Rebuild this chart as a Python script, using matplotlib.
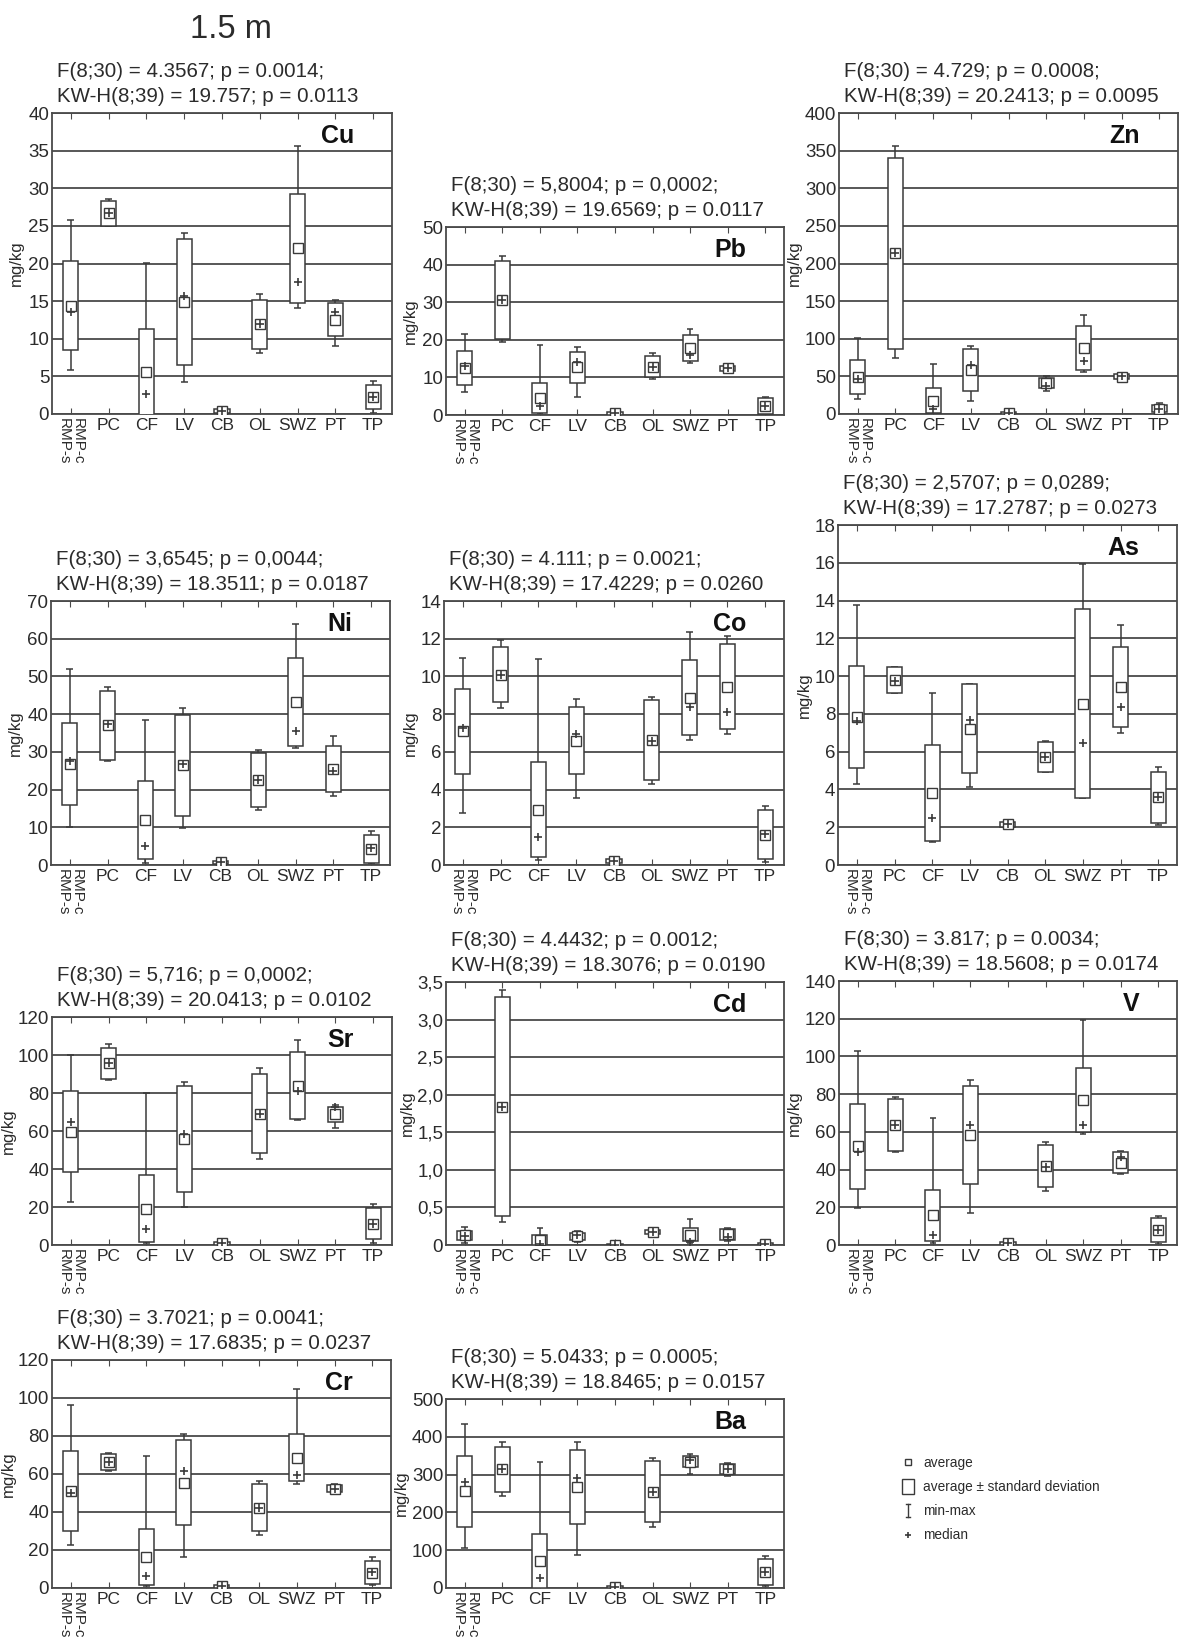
import numpy as np
import matplotlib
matplotlib.use("Agg")
import matplotlib.pyplot as plt
from matplotlib.ticker import MultipleLocator, FuncFormatter
from matplotlib.legend_handler import HandlerBase
from matplotlib.lines import Line2D
from matplotlib.patches import Rectangle, Patch

plt.rcParams["font.family"] = ["Liberation Sans", "DejaVu Sans"]

GROUPS = ["RMP-c\nRMP-s", "PC", "CF", "LV", "CB", "OL", "SWZ", "PT", "TP"]

# average, standard deviation, min, max, median per group
CU = {"mean": [14.4, 26.65, 5.6, 14.9, 0.4, 11.9, 22.0, 12.5, 2.2],
      "sd": [5.9, 1.65, 5.7, 8.4, 0.3, 3.2, 7.3, 2.2, 1.6],
      "min": [5.9, 25.0, 0.0, 4.3, 0.0, 8.1, 14.1, 9.1, 0.1],
      "max": [25.8, 28.6, 20.1, 24.1, 0.9, 15.9, 35.6, 15.1, 4.4],
      "median": [13.5, 26.7, 2.6, 15.7, 0.4, 11.9, 17.6, 13.5, 2.2]}
PB = {"mean": [12.5, 30.6, 4.5, 12.7, 0.4, 12.8, 17.9, 12.4, 2.4],
      "sd": [4.4, 10.4, 4.1, 4.1, 0.3, 2.8, 3.5, 0.6, 2.2],
      "min": [6.0, 19.3, 0.2, 4.9, 0.1, 9.5, 13.9, 11.7, 0.1],
      "max": [21.5, 42.2, 18.6, 18.1, 0.8, 16.5, 22.9, 13.3, 4.8],
      "median": [13.0, 30.6, 2.4, 14.2, 0.4, 12.8, 15.9, 12.5, 2.3]}
ZN = {"mean": [49.5, 213.5, 17.7, 59.0, 1.0, 41.0, 87.5, 49.8, 7.3],
      "sd": [22.5, 126.5, 16.3, 28.0, 1.0, 7.0, 29.5, 3.3, 4.3],
      "min": [20, 74, 1, 17.7, 0, 31, 56, 46, 1.3],
      "max": [101, 356, 66, 90, 3, 50, 132, 53, 14],
      "median": [46.5, 214, 6.6, 65.6, 1.0, 37, 70, 50, 7]}
NI = {"mean": [26.8, 37.0, 11.95, 26.4, 0.7, 22.5, 43.2, 25.5, 4.3],
      "sd": [10.9, 9.2, 10.45, 13.4, 0.4, 7.2, 11.6, 6.1, 3.7],
      "min": [10.2, 27.6, 0.4, 9.7, 0.2, 14.6, 30.9, 18.3, 0.3],
      "max": [52.0, 47.3, 38.4, 41.7, 1.2, 30.5, 63.9, 34.2, 9.0],
      "median": [27.7, 37.3, 5.1, 26.8, 0.7, 22.5, 35.6, 25.0, 4.4]}
CO = {"mean": [7.08, 10.08, 2.94, 6.6, 0.22, 6.63, 8.87, 9.45, 1.61],
      "sd": [2.25, 1.46, 2.5, 1.8, 0.12, 2.12, 2.0, 2.25, 1.31],
      "min": [2.78, 8.31, 0.27, 3.54, 0.08, 4.28, 6.63, 6.95, 0.18],
      "max": [10.96, 11.93, 10.92, 8.82, 0.38, 8.89, 12.37, 12.14, 3.15],
      "median": [7.25, 10.08, 1.5, 6.93, 0.22, 6.6, 8.4, 8.13, 1.63]}
AS = {"mean": [7.85, 9.79, 3.8, 7.22, 2.15, 5.73, 8.55, 9.4, 3.59],
      "sd": [2.7, 0.67, 2.53, 2.34, 0.12, 0.8, 5.0, 2.12, 1.35],
      "min": [4.29, 9.09, 1.24, 4.15, 1.98, 4.9, 3.53, 7.0, 2.12],
      "max": [13.76, 10.5, 9.12, 9.58, 2.29, 6.58, 15.93, 12.7, 5.17],
      "median": [7.62, 9.76, 2.47, 7.68, 2.15, 5.7, 6.44, 8.38, 3.58]}
SR = {"mean": [59.65, 95.65, 19.2, 55.7, 1.0, 69.2, 83.9, 68.75, 11.25],
      "sd": [21.45, 8.05, 17.8, 28.0, 0.8, 21.0, 17.7, 3.95, 8.05],
      "min": [22.4, 87.1, 0.9, 20.1, 0.1, 45.5, 66.0, 61.8, 1.2],
      "max": [99.9, 105.6, 80.1, 85.8, 2.3, 93.4, 107.7, 73.6, 21.4],
      "median": [64.5, 96.0, 8.4, 58.3, 1.0, 69.0, 81.1, 72.7, 11.0]}
CD = {"mean": [0.13, 1.84, 0.065, 0.115, 0.005, 0.175, 0.135, 0.14, 0.01],
      "sd": [0.06, 1.46, 0.065, 0.045, 0.005, 0.025, 0.085, 0.07, 0.01],
      "min": [0.02, 0.31, 0.0, 0.04, 0.0, 0.14, 0.02, 0.05, 0.0],
      "max": [0.24, 3.39, 0.23, 0.18, 0.01, 0.21, 0.35, 0.22, 0.03],
      "median": [0.12, 1.84, 0.01, 0.13, 0.005, 0.17, 0.04, 0.1, 0.01]}
V = {"mean": [52.25, 63.65, 15.7, 58.25, 1.0, 41.75, 76.65, 43.7, 7.95],
     "sd": [22.75, 13.65, 13.4, 26.15, 0.8, 11.25, 16.95, 5.4, 6.55],
     "min": [19.8, 49.4, 0.9, 17.1, 0.1, 28.8, 59.1, 37.4, 0.5],
     "max": [102.9, 78.6, 67.4, 87.7, 2.0, 54.7, 119.5, 50.0, 15.5],
     "median": [49.4, 63.6, 5.3, 63.6, 1.0, 41.1, 63.6, 46.8, 7.9]}
CR = {"mean": [51.0, 66.15, 16.3, 55.4, 0.8, 42.2, 68.5, 52.3, 8.15],
      "sd": [21.0, 4.15, 14.8, 22.4, 0.6, 12.3, 12.3, 1.7, 5.85],
      "min": [22.5, 61.5, 0.9, 16.3, 0.1, 27.8, 54.5, 50.0, 1.4],
      "max": [96.3, 71.2, 69.6, 80.8, 1.5, 56.2, 105.0, 55.0, 16.3],
      "median": [50.0, 66.4, 6.1, 61.5, 0.8, 42.2, 59.7, 52.0, 8.4]}
BA = {"mean": [256, 314, 71, 266.5, 3, 255, 334.5, 314, 43.5],
      "sd": [94, 59, 71, 98.5, 2.5, 80, 15.5, 13, 34.5],
      "min": [106, 244, 3, 87, 0.5, 162, 301, 296, 4],
      "max": [434, 385, 333, 386, 6, 345, 354, 330, 84],
      "median": [281, 315, 27, 292, 3, 253, 339, 315, 42]}

STATS = {
    "Cu": ("F(8;30) = 4.3567; p = 0.0014;", "KW-H(8;39) = 19.757; p = 0.0113"),
    "Pb": ("F(8;30) = 5,8004; p = 0,0002;", "KW-H(8;39) = 19.6569; p = 0.0117"),
    "Zn": ("F(8;30) = 4.729; p = 0.0008;", "KW-H(8;39) = 20.2413; p = 0.0095"),
    "Ni": ("F(8;30) = 3,6545; p = 0,0044;", "KW-H(8;39) = 18.3511; p = 0.0187"),
    "Co": ("F(8;30) = 4.111; p = 0.0021;", "KW-H(8;39) = 17.4229; p = 0.0260"),
    "As": ("F(8;30) = 2,5707; p = 0,0289;", "KW-H(8;39) = 17.2787; p = 0.0273"),
    "Sr": ("F(8;30) = 5,716; p = 0,0002;", "KW-H(8;39) = 20.0413; p = 0.0102"),
    "Cd": ("F(8;30) = 4.4432; p = 0.0012;", "KW-H(8;39) = 18.3076; p = 0.0190"),
    "V": ("F(8;30) = 3.817; p = 0.0034;", "KW-H(8;39) = 18.5608; p = 0.0174"),
    "Cr": ("F(8;30) = 3.7021; p = 0.0041;", "KW-H(8;39) = 17.6835; p = 0.0237"),
    "Ba": ("F(8;30) = 5.0433; p = 0.0005;", "KW-H(8;39) = 18.8465; p = 0.0157"),
}

# element -> (data, y max, y step, axes box in pixels: left, top, right, bottom, ylabel offset px)
PANELS = [
    ("Cu", CU, 40, 5, (52, 113, 392, 414), 28),
    ("Pb", PB, 50, 10, (446, 227, 784, 415), 28),
    ("Zn", ZN, 400, 50, (839, 113, 1178, 414), 37),
    ("Ni", NI, 70, 10, (51, 601, 390, 865), 28),
    ("Co", CO, 14, 2, (444, 601, 784, 865), 26),
    ("As", AS, 18, 2, (838, 525, 1177, 865), 26),
    ("Sr", SR, 120, 20, (52, 1017, 392, 1245), 36),
    ("Cd", CD, 3.5, 0.5, (446, 982, 784, 1245), 31),
    ("V", V, 140, 20, (839, 981, 1177, 1245), 37),
    ("Cr", CR, 120, 20, (52, 1360, 391, 1588), 36),
    ("Ba", BA, 500, 100, (446, 1399, 784, 1588), 37),
]

W, H = 1180, 1641
INK = "#2b2b2b"
EDGE = "#3a3a3a"
GRID = "#4a4a4a"
PT_PER_PX = 0.72

fig = plt.figure(figsize=(W / 100, H / 100), dpi=100)
fig.text(231 / W, 1 - 29 / H, "1.5 m", ha="center", va="center", fontsize=23.5, color=INK)

x = np.arange(len(GROUPS))
for name, d, ymax, step, (l, t, r, b), ylab_off in PANELS:
    ax = fig.add_axes([l / W, 1 - b / H, (r - l) / W, (b - t) / H])
    mean = np.array(d["mean"]); sd = np.array(d["sd"])
    ax.vlines(x, d["min"], d["max"], color=EDGE, lw=1.1, zorder=2)
    ax.hlines(d["max"], x - 0.09, x + 0.09, color=EDGE, lw=1.1, zorder=2)
    ax.hlines(d["min"], x - 0.09, x + 0.09, color=EDGE, lw=1.1, zorder=2)
    ax.bar(x, 2 * sd, bottom=mean - sd, width=0.4, facecolor="white",
           edgecolor=EDGE, lw=1.1, zorder=3)
    ax.plot(x, mean, ls="none", marker="s", ms=6.5, mfc="white", mec=EDGE, mew=1.0, zorder=4)
    ax.plot(x, d["median"], ls="none", marker="+", ms=6, color=EDGE, mew=1.2, zorder=5)

    ax.set_xlim(-0.5, len(GROUPS) - 0.5)
    ax.set_ylim(0, ymax)
    ax.yaxis.set_major_locator(MultipleLocator(step))
    if name == "Cd":
        ax.yaxis.set_major_formatter(FuncFormatter(
            lambda v, _: "0" if v == 0 else f"{v:.1f}".replace(".", ",")))
    else:
        ax.yaxis.set_major_formatter(FuncFormatter(lambda v, _: f"{v:g}"))
    ax.grid(axis="y", color=GRID, lw=1.3)
    ax.set_axisbelow(True)
    for s in ax.spines.values():
        s.set_color(GRID); s.set_linewidth(1.3)

    ax.set_xticks(x)
    ax.set_xticklabels(GROUPS)
    ax.tick_params(axis="x", direction="in", top=True, bottom=True, length=4,
                   color=GRID, pad=3, labelsize=12.5, labelcolor=INK)
    ax.tick_params(axis="y", direction="in", length=0, pad=2, labelsize=13.5, labelcolor=INK)
    lab = ax.get_xticklabels()[0]
    lab.set_rotation(270); lab.set_linespacing(0.95); lab.set_fontsize(11)

    ax.set_ylabel("mg/kg", fontsize=12, color=INK)
    ax.yaxis.set_label_coords(-ylab_off / (r - l), 0.5)

    line1, line2 = STATS[name]
    ax.annotate(line2, xy=(0, 1), xycoords="axes fraction",
                xytext=(5 * PT_PER_PX, 11 * PT_PER_PX), textcoords="offset points",
                ha="left", va="baseline", fontsize=14.8, color=INK)
    ax.annotate(line1, xy=(0, 1), xycoords="axes fraction",
                xytext=(5 * PT_PER_PX, 36 * PT_PER_PX), textcoords="offset points",
                ha="left", va="baseline", fontsize=14.8, color=INK)
    ax.annotate(name, xy=(1, 1), xycoords="axes fraction",
                xytext=(-38 * PT_PER_PX, -30 * PT_PER_PX), textcoords="offset points",
                ha="right", va="baseline", fontsize=18, fontweight="bold", color="#111111")


class BoxHandler(HandlerBase):
    def create_artists(self, legend, orig_handle, xdescent, ydescent, width, height, fontsize, trans):
        w, h = height * 1.2, height * 1.6
        cx = width / 2 - xdescent
        cy = height / 2 - ydescent
        return [Rectangle((cx - w / 2, cy - h / 2), w, h, facecolor="white",
                          edgecolor=EDGE, lw=1.0, transform=trans)]


class MinMaxHandler(HandlerBase):
    def create_artists(self, legend, orig_handle, xdescent, ydescent, width, height, fontsize, trans):
        cx = width / 2 - xdescent
        y0, y1 = -ydescent - height * 0.15, height - ydescent + height * 0.15
        c = height * 0.25
        kw = dict(color=EDGE, lw=1.0, transform=trans)
        return [Line2D([cx, cx], [y0, y1], **kw),
                Line2D([cx - c, cx + c], [y0, y0], **kw),
                Line2D([cx - c, cx + c], [y1, y1], **kw)]


h_avg = Line2D([], [], ls="none", marker="s", ms=5, mfc="white", mec=EDGE, mew=1.0)
h_box = Patch(facecolor="white", edgecolor=EDGE)
h_mm = Line2D([], [], color=EDGE)
h_med = Line2D([], [], ls="none", marker="+", ms=5, color=EDGE, mew=1.2)
fig.legend([h_avg, h_box, h_mm, h_med],
           ["average", "average \u00b1 standard deviation", "min-max", "median"],
           handler_map={h_box: BoxHandler(), h_mm: MinMaxHandler()},
           loc="upper left", bbox_to_anchor=(893 / W, 1 - 1449 / H), frameon=False,
           fontsize=9.8, handlelength=1.2, handletextpad=0.5, labelspacing=0.75,
           borderpad=0, labelcolor=INK)

fig.savefig("out.png", dpi=100)
